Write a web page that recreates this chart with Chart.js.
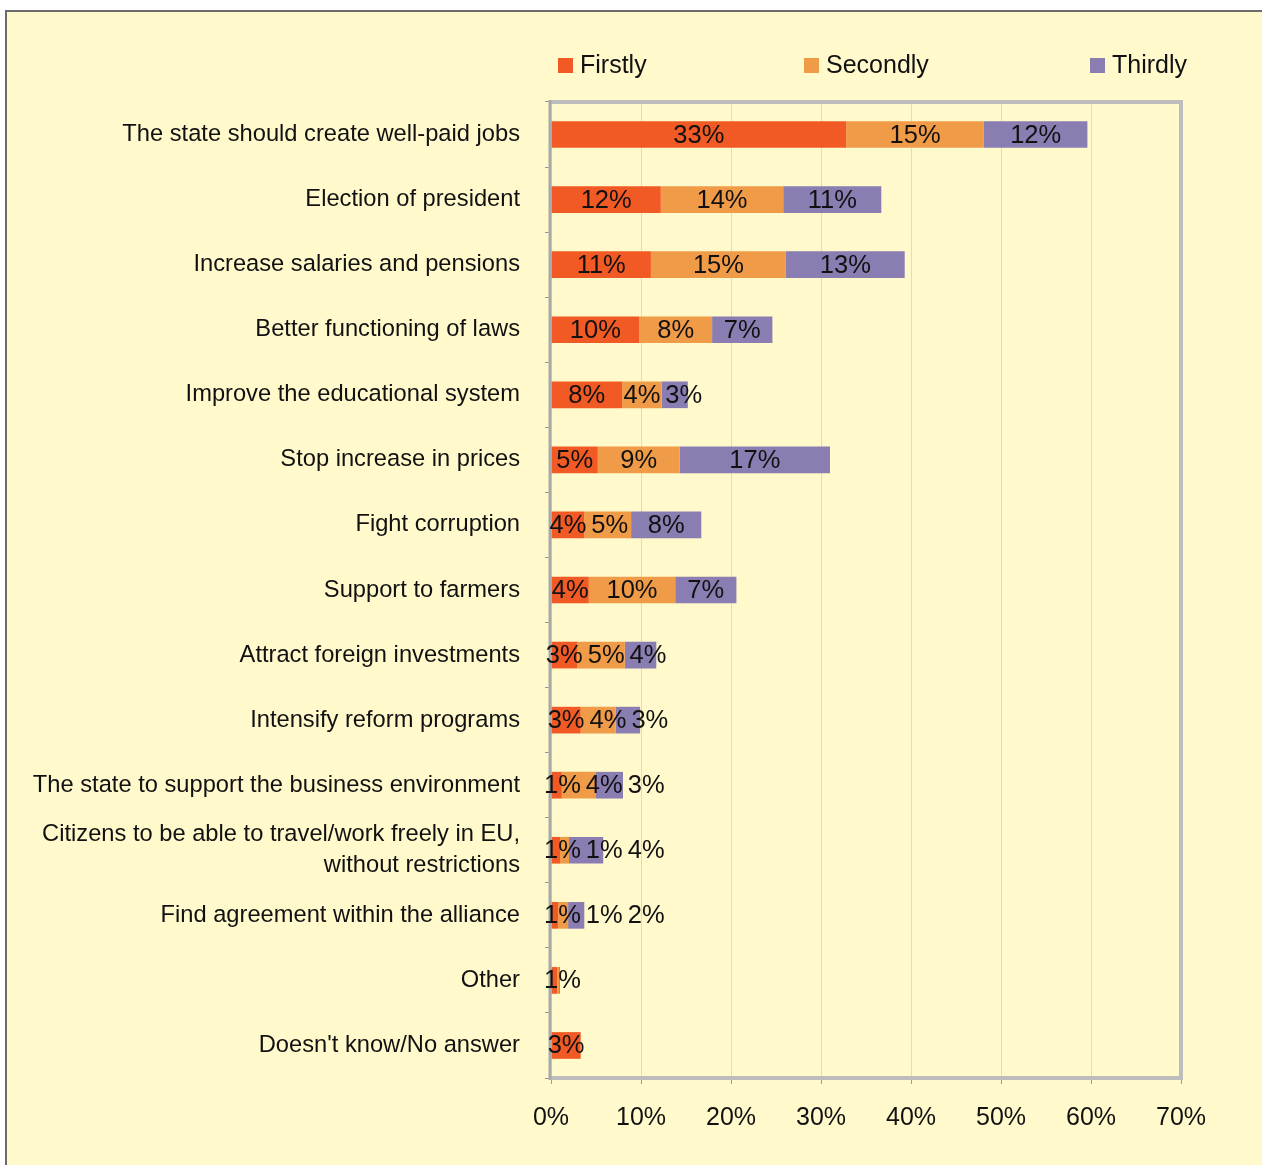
<!DOCTYPE html>
<html>
<head>
<meta charset="utf-8">
<script src="https://cdn.jsdelivr.net/npm/chart.js@4/dist/chart.umd.min.js"></script>
<style>
  html, body { margin: 0; padding: 0; background: #fff; }
  body { width: 1262px; height: 1165px; position: relative; overflow: hidden; }
  #frame {
    position: absolute; left: 5px; top: 10px; width: 1300px; height: 1200px;
    background: #FFF9CC; border-left: 2px solid #6b6b6b; border-top: 2px solid #6b6b6b;
  }
  #wrap { position: absolute; left: 0; top: 0; width: 1262px; height: 1165px; }
</style>
</head>
<body>
<div id="frame"></div>
<div id="wrap"><canvas id="chart"></canvas></div>
<script>
// answers, top to bottom
const categories = [
  'The state should create well-paid jobs',
  'Election of president',
  'Increase salaries and pensions',
  'Better functioning of laws',
  'Improve the educational system',
  'Stop increase in prices',
  'Fight corruption',
  'Support to farmers',
  'Attract foreign investments',
  'Intensify reform programs',
  'The state to support the business environment',
  ['Citizens to be able to travel/work freely in EU,', 'without restrictions'],
  'Find agreement within the alliance',
  'Other',
  "Doesn't know/No answer"
];

const firstly  = [32.8, 12.2, 11.1, 9.8, 7.9, 5.2, 3.7, 4.2, 2.9, 3.3, 1.2, 1.0, 0.8, 0.7, 3.3];
const secondly = [15.3, 13.6, 15.0, 8.1, 4.4, 9.1, 5.2, 9.6, 5.3, 3.9, 3.8, 1.0, 1.1, 0.2, 0];
const thirdly  = [11.5, 10.9, 13.2, 6.7, 2.9, 16.7, 7.8, 6.8, 3.5, 2.7, 3.0, 3.8, 1.8, 0.1, 0];

const xTicks = [0, 10, 20, 30, 40, 50, 60, 70];

const FONT = '"Liberation Sans", Arial, sans-serif';
const BORDER_GREY = '#bdbdbd';

// grey frame round the plot area (drawn before the value labels)
const plotFrame = {
  id: 'plotFrame',
  afterDatasetsDraw(chart) {
    const ctx = chart.ctx;
    const a = chart.chartArea;
    ctx.save();
    ctx.strokeStyle = BORDER_GREY;
    ctx.lineWidth = 4;
    ctx.beginPath();
    ctx.moveTo(a.left, a.top);
    ctx.lineTo(a.right, a.top);
    ctx.lineTo(a.right, a.bottom);
    ctx.lineTo(a.left, a.bottom);
    ctx.stroke();
    ctx.lineWidth = 3;
    ctx.strokeStyle = '#a9a9a9';
    ctx.beginPath();
    ctx.moveTo(a.left - 1, a.top - 2);
    ctx.lineTo(a.left - 1, a.bottom + 2);
    ctx.stroke();
    ctx.restore();
  }
};

// labels centred on each segment, nudged right when they would overlap; legend on top
const labelsAndLegend = {
  id: 'labelsAndLegend',
  afterDraw(chart) {
    const ctx = chart.ctx;
    const a = chart.chartArea;
    ctx.save();
    ctx.font = '25.5px ' + FONT;
    ctx.fillStyle = '#111';
    ctx.textAlign = 'center';
    ctx.textBaseline = 'middle';
    const minLeft = a.left - 7;
    categories.forEach((_, i) => {
      let prevRight = minLeft - 5;
      chart.data.datasets.forEach((ds, d) => {
        const v = ds.data[i];
        if (!v || Math.round(v) === 0) return;
        const bar = chart.getDatasetMeta(d).data[i];
        const text = Math.round(v) + '%';
        const w = ctx.measureText(text).width;
        const center = (bar.x + bar.base) / 2;
        const x = Math.max(center, prevRight + 5 + w / 2);
        ctx.fillText(text, x, bar.y + 1);
        prevRight = x + w / 2;
      });
    });

    const offsets = [7, 253, 539];
    ctx.font = '25px ' + FONT;
    ctx.textAlign = 'left';
    chart.data.datasets.forEach((ds, d) => {
      const x = a.left + offsets[d];
      const y = 65;
      ctx.fillStyle = ds.backgroundColor;
      ctx.fillRect(x, y - 7, 15, 15);
      ctx.fillStyle = '#111';
      ctx.fillText(ds.label, x + 22, y + 1);
    });
    ctx.restore();
  }
};

new Chart(document.getElementById('chart'), {
  type: 'bar',
  data: {
    labels: categories,
    datasets: [
      { label: 'Firstly', data: firstly, backgroundColor: '#F15A24' },
      { label: 'Secondly', data: secondly, backgroundColor: '#F09B48' },
      { label: 'Thirdly', data: thirdly, backgroundColor: '#8A7DB1' }
    ]
  },
  options: {
    indexAxis: 'y',
    responsive: true,
    maintainAspectRatio: false,
    animation: false,
    layout: { padding: { top: 102, right: 81, left: 0, bottom: 0 } },
    datasets: {
      bar: { barPercentage: 0.41, categoryPercentage: 1, borderWidth: 0 }
    },
    plugins: {
      legend: { display: false },
      tooltip: { enabled: false }
    },
    scales: {
      x: {
        stacked: true,
        min: 0,
        max: 70,
        afterBuildTicks: (scale) => { scale.ticks = xTicks.map(v => ({ value: v })); },
        afterFit: (scale) => { scale.height = 87; },
        grid: { color: '#e2dcb4', lineWidth: 1, tickLength: 6, tickColor: '#9a9a9a' },
        border: { display: false },
        ticks: {
          color: '#111',
          padding: 19,
          font: { family: FONT, size: 25 },
          callback: v => v + '%'
        }
      },
      y: {
        stacked: true,
        afterFit: (scale) => { scale.width = 551; },
        grid: { drawOnChartArea: false, tickLength: 6, tickColor: '#9a9a9a', offset: true },
        border: { display: false },
        ticks: {
          color: '#111',
          padding: 25,
          autoSkip: false,
          font: { family: FONT, size: 23.7, lineHeight: 1.3 }
        }
      }
    }
  },
  plugins: [plotFrame, labelsAndLegend]
});
</script>
</body>
</html>
